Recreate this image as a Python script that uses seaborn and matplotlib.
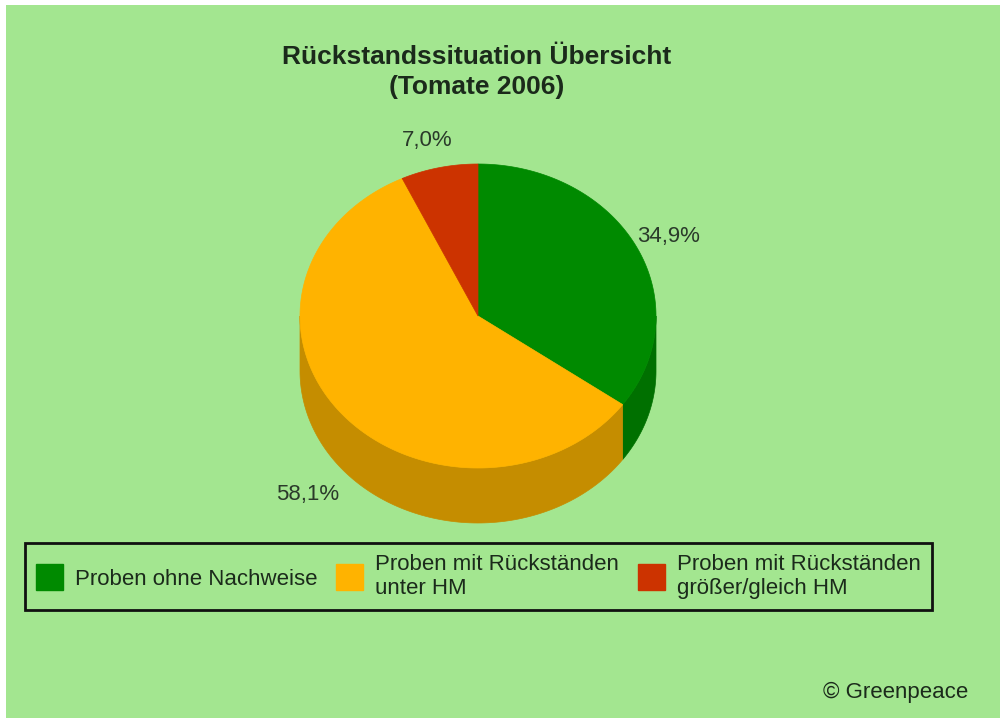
import numpy as np
import matplotlib
matplotlib.use("Agg")
import matplotlib.pyplot as plt
from matplotlib.patches import Polygon, Patch, Rectangle
import seaborn as sns

# Data
categories = ["Proben ohne Nachweise",
              "Proben mit Rückständen\nunter HM",
              "Proben mit Rückständen\ngrößer/gleich HM"]
shares = [34.9, 58.1, 7.0]
value_labels = ["34,9%", "58,1%", "7,0%"]
title_lines = ["Rückstandssituation Übersicht", "(Tomate 2006)"]
credit = "© Greenpeace"

top_colors = ["#008a00", "#ffb300", "#cc3300"]
side_colors = ["#007000", "#c58d00", "#a02800"]

sns.set_theme(style="white")
plt.rcParams["font.family"] = ["Liberation Sans", "DejaVu Sans"]

BG = "#a3e690"
TXT = "#1b2a1b"

fig = plt.figure(figsize=(10.02, 7.2), dpi=100, facecolor="white")
# green panel inside a thin white margin
fig.patches.append(Rectangle((6 / 1002, 2 / 720), (1000 - 6) / 1002, (715 - 2) / 720,
                             transform=fig.transFigure, facecolor=BG,
                             edgecolor="none", zorder=-5))

ax = fig.add_axes([0, 0, 1, 1])
ax.set_zorder(1)
ax.set_xlim(0, 1002)
ax.set_ylim(720, 0)
ax.set_axis_off()
ax.patch.set_alpha(0)

# pie geometry (pixel space)
cx, cy, rx, ry, depth = 478, 316, 178, 152, 55

def pt(t, dy=0.0):
    return cx + rx * np.cos(t), cy - ry * np.sin(t) + dy

fracs = np.array(shares) / np.sum(shares)
start = np.pi / 2
bounds = []
a = start
for f in fracs:
    b = a - f * 2 * np.pi  # clockwise
    bounds.append((b, a))
    a = b

# outer walls: only the lower (front) half is visible
for (lo, hi), col in zip(bounds, side_colors):
    for shift in (0, 2 * np.pi, -2 * np.pi):
        l, h = lo + shift, hi + shift
        s0, s1 = max(l, np.pi), min(h, 2 * np.pi)
        if s1 > s0:
            ts = np.linspace(s0, s1, 120)
            top = np.column_stack(pt(ts))
            bot = np.column_stack(pt(ts[::-1], depth))
            ax.add_patch(Polygon(np.vstack([top, bot]), closed=True,
                                 facecolor=col, edgecolor=col, lw=0.5, zorder=2))

# top faces
for (lo, hi), col in zip(bounds, top_colors):
    ts = np.linspace(hi, lo, 200)
    arc = np.column_stack(pt(ts))
    poly = np.vstack([[cx, cy], arc])
    ax.add_patch(Polygon(poly, closed=True, facecolor=col, edgecolor=col,
                         lw=0.5, zorder=3))

# value labels around the pie
for (lo, hi), lab in zip(bounds, value_labels):
    mid = (lo + hi) / 2
    x = cx + 1.22 * rx * np.cos(mid) - 3
    y = cy - 1.22 * ry * np.sin(mid) + 5
    if np.sin(mid) < 0:
        y += depth
    ax.text(x, y, lab, ha="center", va="center", fontsize=16, color="#2a3a2a", zorder=5)

# title
ax.text(477, 57, title_lines[0], ha="center", va="center", fontsize=19,
        fontweight="bold", color=TXT)
ax.text(477, 87, title_lines[1], ha="center", va="center", fontsize=19,
        fontweight="bold", color=TXT)

# credit
ax.text(968, 692, credit, ha="right", va="center", fontsize=16, color=TXT)

# legend
handles = [Patch(facecolor=c, edgecolor=c) for c in top_colors]
leg = fig.legend(handles, categories, loc="upper left",
                 bbox_to_anchor=(25 / 1002, 1 - 543 / 720), ncol=3,
                 fontsize=16, frameon=True, fancybox=False,
                 handlelength=1.2, handleheight=1.4, handletextpad=0.55,
                 columnspacing=0.85, borderpad=0.5, borderaxespad=0,
                 labelcolor=TXT)
fr = leg.get_frame()
fr.set_facecolor(BG)
fr.set_edgecolor("#111111")
fr.set_linewidth(2)
fr.set_alpha(1)

fig.savefig("out.png", dpi=100, facecolor="white")
